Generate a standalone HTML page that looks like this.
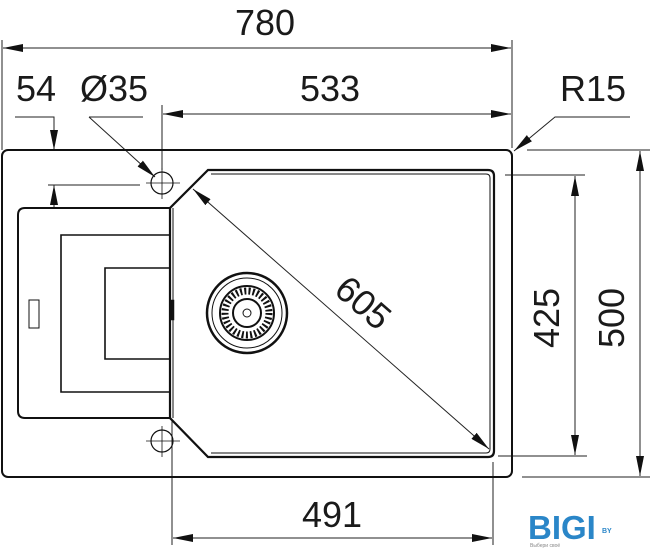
<!DOCTYPE html>
<html><head><meta charset="utf-8"><style>
html,body{margin:0;padding:0;background:#fff;}
svg{display:block;}
text{font-family:"Liberation Sans",Arial,sans-serif;fill:#1a1a1a;}
</style></head><body>
<svg width="650" height="550" viewBox="0 0 650 550" xmlns="http://www.w3.org/2000/svg">
<defs>
<marker id="a" viewBox="0 0 20 8" refX="20" refY="4" markerWidth="20" markerHeight="8" markerUnits="userSpaceOnUse" orient="auto-start-reverse">
<path d="M0,0 L20,4 L0,8 z" fill="#111"/></marker>
</defs>
<g stroke="#222" fill="none" stroke-width="1">
<line x1="2" y1="40" x2="2" y2="150"/>
<line x1="512" y1="40" x2="512" y2="148"/>
<line x1="3" y1="48" x2="511" y2="48" marker-start="url(#a)" marker-end="url(#a)"/>
<line x1="162" y1="105" x2="162" y2="170"/>
<line x1="163" y1="114" x2="511" y2="114" marker-start="url(#a)" marker-end="url(#a)"/>
<polyline points="15,117 54,117 54,150" marker-end="url(#a)"/>
<line x1="54" y1="185" x2="54" y2="208" marker-start="url(#a)"/>
<line x1="48" y1="185" x2="140" y2="185"/>
<line x1="89" y1="117" x2="143" y2="117"/>
<line x1="89" y1="117" x2="155" y2="177" marker-end="url(#a)"/>
<polyline points="630,117 555,117 514,151" marker-end="url(#a)"/>
<line x1="193" y1="189" x2="489" y2="449" marker-start="url(#a)" marker-end="url(#a)"/>
<line x1="505" y1="175" x2="585" y2="175"/>
<line x1="498" y1="456" x2="587" y2="456"/>
<line x1="575" y1="176" x2="575" y2="455" marker-start="url(#a)" marker-end="url(#a)"/>
<line x1="527" y1="150" x2="650" y2="150"/>
<line x1="522" y1="477" x2="650" y2="477"/>
<line x1="640" y1="151" x2="640" y2="476" marker-start="url(#a)" marker-end="url(#a)"/>
<line x1="172" y1="420" x2="172" y2="545"/>
<line x1="493" y1="462" x2="493" y2="545"/>
<line x1="173" y1="538" x2="492" y2="538" marker-start="url(#a)" marker-end="url(#a)"/>
</g>
<g stroke="#111" fill="none">
<rect x="2" y="150" width="510" height="327" rx="6" stroke-width="2"/>
<path d="M208,170 L488,170 Q494,170 494,176 L494,451 Q494,457 488,457 L208,457 L170,418 L170,208 Z" stroke-width="2.2"/>
<path d="M211,174 L486,174 Q490,174 490,178 L490,449 Q490,453 486,453 L211,453" stroke-width="1"/>
<path d="M170,208 L25,208 Q18,208 18,215 L18,411 Q18,418 25,418 L170,418" stroke-width="2"/>
<line x1="173" y1="208" x2="173" y2="418" stroke-width="1"/>
<polyline points="170,235 61,235 61,392 170,392" stroke-width="1.6"/>
<polyline points="170,268 105,268 105,359 170,359" stroke-width="1.6"/>
<rect x="29" y="300" width="10" height="28" stroke-width="1"/>
<rect x="171" y="300" width="3" height="20" fill="#111" stroke-width="0.5"/>
<circle cx="162" cy="183" r="11" stroke-width="1.2"/>
<line x1="146" y1="183" x2="180" y2="183" stroke-width="0.8"/>
<line x1="162" y1="168" x2="162" y2="199" stroke-width="0.8"/>
<circle cx="162" cy="441" r="11" stroke-width="1.2"/>
<line x1="146" y1="441" x2="180" y2="441" stroke-width="0.8"/>
<line x1="162" y1="426" x2="162" y2="457" stroke-width="0.8"/>
<circle cx="247" cy="313" r="40" stroke-width="2.5"/>
<circle cx="247" cy="313" r="35" stroke-width="1"/>
<circle cx="247" cy="313" r="27" stroke-width="2"/>
<circle cx="247" cy="313" r="22" stroke-width="7" stroke-dasharray="2 2.2"/>
<circle cx="247" cy="313" r="14" stroke-width="2"/>
<circle cx="247" cy="313" r="4" stroke-width="1"/>
</g>
<g font-size="36">
<text x="265" y="35" text-anchor="middle">780</text>
<text x="330" y="101" text-anchor="middle">533</text>
<text x="36" y="101" text-anchor="middle">54</text>
<text x="114" y="101" text-anchor="middle">Ø35</text>
<text x="593" y="101" text-anchor="middle">R15</text>
<text x="332" y="527" text-anchor="middle">491</text>
<text transform="translate(363,303) rotate(41)" text-anchor="middle" dy="12">605</text>
<text transform="translate(547,318) rotate(-90)" text-anchor="middle" dy="12">425</text>
<text transform="translate(612,318) rotate(-90)" text-anchor="middle" dy="12">500</text>
</g>
<g>
<text x="528" y="539" font-size="33" font-weight="bold" style="fill:#2a86c8">BIGI</text>
<text x="602" y="533" font-size="7" font-weight="bold" style="fill:#2a86c8">BY</text>
<text x="530" y="547" font-size="5" style="fill:#888">Выбери своё</text>
</g>
</svg>
</body></html>
